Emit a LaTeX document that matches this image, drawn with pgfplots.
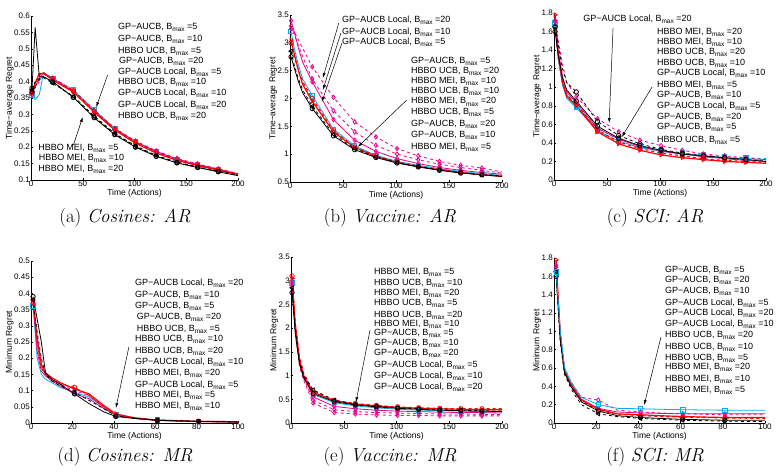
\documentclass[border=0pt]{standalone}
\usepackage{fontspec}
\newfontfamily\arial{Liberation Sans}
\usepackage{pgfplots}
\pgfplotsset{compat=1.18}
\usepackage{pgfplotstable}
\usetikzlibrary{arrows.meta}

% Time-average regret, Cosines
\pgfplotstableread{
x   c1    m1    m2    r1    r2    k1    k2    k3
1   0.360 0.370 0.360 0.370 0.365 0.380 0.375 0.370
4   0.345 0.385 0.380 0.395 0.390 0.565 0.400 0.385
8   0.360 0.410 0.400 0.425 0.420 0.415 0.410 0.405
12  0.425 0.428 0.425 0.425 0.427 0.415 0.412 0.415
21  0.410 0.408 0.410 0.405 0.410 0.400 0.395 0.398
41  0.375 0.370 0.373 0.368 0.372 0.352 0.355 0.352
61  0.315 0.310 0.313 0.307 0.310 0.290 0.295 0.292
81  0.257 0.256 0.258 0.252 0.255 0.238 0.242 0.240
101 0.216 0.217 0.219 0.212 0.215 0.200 0.204 0.202
121 0.186 0.187 0.189 0.182 0.185 0.172 0.175 0.173
141 0.163 0.164 0.166 0.160 0.162 0.152 0.155 0.153
161 0.146 0.147 0.149 0.144 0.146 0.138 0.140 0.139
181 0.132 0.133 0.134 0.130 0.132 0.125 0.127 0.126
200 0.118 0.119 0.120 0.117 0.118 0.113 0.115 0.114
}\tabA

% Time-average regret, Vaccine
\pgfplotstableread{
x   c1   m1   m2   m3   r1   r2   k1   k2
1   3.20 3.40 3.30 3.25 3.05 3.00 2.75 2.85
4   2.90 3.20 3.15 3.20 2.80 2.75 2.55 2.60
8   2.60 2.90 2.95 3.05 2.50 2.50 2.30 2.35
12  2.35 2.65 2.75 2.90 2.25 2.30 2.10 2.15
21  2.05 2.30 2.35 2.57 1.95 2.00 1.82 1.86
41  1.45 1.62 1.78 2.02 1.40 1.42 1.33 1.36
61  1.15 1.25 1.40 1.58 1.12 1.13 1.08 1.10
81  0.98 1.05 1.16 1.31 0.96 0.97 0.94 0.95
101 0.87 0.92 1.00 1.10 0.85 0.86 0.84 0.85
121 0.80 0.83 0.90 0.97 0.78 0.78 0.77 0.78
141 0.74 0.76 0.82 0.87 0.72 0.72 0.71 0.72
161 0.69 0.71 0.76 0.80 0.67 0.67 0.66 0.67
181 0.65 0.67 0.71 0.75 0.63 0.63 0.63 0.63
200 0.62 0.64 0.66 0.68 0.60 0.61 0.60 0.61
}\tabB

% Time-average regret, SCI
\pgfplotstableread{
x   c1   c2   m1   m2   r1   r2   k1   k2
1   1.70 1.68 1.72 1.70 1.78 1.65 1.60 1.65
4   1.30 1.34 1.40 1.50 1.35 1.32 1.35 1.45
8   1.02 1.06 1.12 1.25 1.05 1.06 1.10 1.20
12  0.88 0.92 0.95 1.05 0.90 0.92 0.97 1.05
21  0.78 0.80 0.83 0.90 0.80 0.82 0.85 0.95
41  0.53 0.55 0.56 0.66 0.52 0.54 0.58 0.63
61  0.42 0.44 0.44 0.52 0.39 0.41 0.45 0.48
81  0.35 0.37 0.36 0.43 0.32 0.34 0.37 0.39
101 0.31 0.32 0.31 0.37 0.27 0.29 0.32 0.33
121 0.28 0.29 0.28 0.32 0.24 0.26 0.28 0.29
141 0.26 0.27 0.25 0.28 0.22 0.23 0.26 0.26
161 0.24 0.25 0.23 0.26 0.20 0.21 0.24 0.24
181 0.23 0.24 0.21 0.24 0.19 0.20 0.22 0.22
200 0.22 0.23 0.20 0.22 0.18 0.19 0.20 0.21
}\tabC

% Minimum regret, Cosines
\pgfplotstableread{
x   c1    m1    m2    r1    r2    k1    k2
1   0.360 0.370 0.380 0.380 0.370 0.390 0.380
3   0.200 0.220 0.240 0.260 0.250 0.320 0.280
5   0.150 0.160 0.170 0.180 0.170 0.250 0.200
7   0.135 0.145 0.150 0.155 0.150 0.155 0.150
10  0.125 0.130 0.135 0.140 0.135 0.135 0.130
14  0.110 0.115 0.120 0.125 0.120 0.120 0.115
21  0.095 0.090 0.100 0.105 0.110 0.090 0.095
28  0.080 0.075 0.085 0.090 0.085 0.060 0.070
35  0.050 0.045 0.050 0.055 0.050 0.035 0.045
41  0.025 0.025 0.027 0.028 0.025 0.020 0.022
50  0.015 0.014 0.015 0.016 0.015 0.014 0.015
61  0.009 0.008 0.009 0.009 0.008 0.008 0.009
81  0.005 0.004 0.005 0.005 0.005 0.005 0.005
100 0.003 0.003 0.004 0.004 0.004 0.003 0.003
}\tabD

% Minimum regret, Vaccine
\pgfplotstableread{
x   c1   m1   m2   m3   r1   r2   k1   k2
1   2.95 3.00 2.95 2.90 3.05 3.10 2.75 2.85
4   2.00 2.00 1.95 1.90 2.10 2.10 1.90 2.00
8   1.30 1.30 1.25 1.20 1.35 1.40 1.25 1.30
12  0.98 1.00 0.95 0.90 1.00 1.05 0.95 1.00
21  0.60 0.55 0.48 0.42 0.65 0.68 0.62 0.70
41  0.43 0.35 0.28 0.22 0.47 0.48 0.45 0.48
61  0.36 0.30 0.24 0.19 0.40 0.41 0.38 0.39
81  0.32 0.27 0.22 0.17 0.36 0.37 0.34 0.35
101 0.29 0.25 0.21 0.16 0.33 0.34 0.31 0.32
121 0.27 0.24 0.20 0.16 0.31 0.32 0.29 0.30
141 0.26 0.23 0.19 0.15 0.30 0.31 0.27 0.28
161 0.25 0.22 0.19 0.15 0.29 0.30 0.26 0.27
181 0.24 0.22 0.18 0.15 0.28 0.30 0.25 0.26
200 0.23 0.21 0.18 0.15 0.28 0.30 0.24 0.25
}\tabE

% Minimum regret, SCI
\pgfplotstableread{
x   c1    m1    m2    r1    r2    k1    k2
1   1.65  1.70  1.72  1.78  1.65  1.60  1.65
3   1.00  0.95  1.00  0.95  0.90  0.90  0.88
5   0.60  0.57  0.60  0.57  0.55  0.55  0.53
8   0.45  0.42  0.45  0.43  0.42  0.40  0.38
10  0.38  0.36  0.38  0.35  0.34  0.33  0.30
13  0.28  0.26  0.28  0.25  0.24  0.23  0.20
21  0.20  0.16  0.25  0.15  0.14  0.13  0.10
30  0.16  0.12  0.14  0.10  0.095 0.08  0.07
41  0.155 0.11  0.12  0.09  0.08  0.06  0.05
50  0.15  0.105 0.11  0.08  0.07  0.05  0.04
61  0.145 0.10  0.10  0.07  0.065 0.04  0.03
71  0.142 0.10  0.095 0.065 0.06  0.035 0.025
81  0.14  0.10  0.09  0.06  0.055 0.03  0.02
100 0.14  0.10  0.09  0.06  0.05  0.03  0.015
}\tabF

\pgfplotsset{
  panel/.style={
    scale only axis, anchor=south west, clip=false,
    axis lines*=left, tick align=inside, major tick length=2pt,
    axis line style={line width=0.6pt},
    tick style={black, line width=0.5pt},
    /pgf/number format/assume math mode=true,
    tick label style={font=\arial\fontsize{8}{9}\selectfont, inner sep=1pt},
    yticklabel style={/pgf/number format/fixed, /pgf/number format/precision=2},
    label style={font=\arial\fontsize{8.5}{9}\selectfont},
    xlabel={Time (Actions)},
    xlabel style={yshift=2pt},
    ylabel style={yshift=-4pt},
    every axis plot/.append style={line width=0.8pt, mark size=2.2pt},
  },
  sK/.style={black, solid, mark=o},
  dK/.style={black, dashed, mark=triangle, mark options={solid, rotate=90}},
  sR/.style={red, solid, line width=1.2pt, mark=triangle, mark options={solid, rotate=-90, line width=0.8pt}},
  dR/.style={red, dashed, line width=1.1pt, mark=o, mark options={solid, line width=0.8pt}},
  sM/.style={magenta, solid, mark=diamond},
  dM/.style={magenta, dashed, mark=diamond, mark options={solid}},
  sC/.style={cyan, solid, mark=square},
  dC/.style={cyan, dashed, mark=square, mark options={solid}},
}
\tikzset{
  note/.style={anchor=mid west, inner sep=0pt, font=\arial\fontsize{9}{10}\selectfont},
  pointer/.style={-{Latex[length=5pt,width=3pt]}, line width=0.5pt, black},
}
% budget symbol with a lowered subscript
\newcommand\bmax{B\raisebox{-2.4pt}{\fontsize{6.5}{7}\selectfont max}}
% one annotation line: x, y, method, budget
\newcommand\lab[4]{\node[note] at (axis cs:#1,#2) {#3, \bmax\ =#4};}

\begin{document}
\begin{tikzpicture}
\useasboundingbox (0,0) rectangle (778pt,474pt);

% ---------- (a) Cosines: AR ----------
\begin{axis}[panel, at={(31pt,294pt)}, width=207pt, height=164pt,
  xmin=0, xmax=200, ymin=0.1, ymax=0.6,
  xtick={0,50,100,150,200},
  ytick={0.1,0.15,0.2,0.25,0.3,0.35,0.4,0.45,0.5,0.55,0.6},
  ylabel={Time−average Regret},
  every axis plot/.append style={mark indices={1,5,6,7,8,9,10,11,12,13}}]
\addplot[sC] table[y=c1] {\tabA};
\addplot[sM] table[y=m1] {\tabA};
\addplot[dM] table[y=m2] {\tabA};
\addplot[sR] table[y=r1] {\tabA};
\addplot[dR] table[y=r2] {\tabA};
\addplot[dK] table[y=k2] {\tabA};
\addplot[dK, mark=o] table[y=k3] {\tabA};
\addplot[sK] table[y=k1] {\tabA};
\lab{84}{0.566}{GP−AUCB}{5}
\lab{84}{0.530}{GP−AUCB}{10}
\lab{84}{0.493}{HBBO UCB}{5}
\lab{85}{0.463}{GP−AUCB}{20}
\lab{84}{0.429}{GP−AUCB Local}{5}
\lab{84}{0.399}{HBBO UCB}{10}
\lab{84}{0.365}{GP−AUCB Local}{10}
\lab{84}{0.329}{GP−AUCB Local}{20}
\lab{84}{0.295}{HBBO UCB}{20}
\lab{7}{0.198}{HBBO MEI}{5}
\lab{7.5}{0.167}{HBBO MEI}{10}
\lab{7}{0.133}{HBBO MEI}{20}
\draw[pointer] (axis cs:74,0.42) -- (axis cs:63,0.322);
\draw[pointer] (axis cs:41,0.207) -- (axis cs:50,0.292);
\end{axis}

% ---------- (b) Vaccine: AR ----------
\begin{axis}[panel, at={(290pt,292pt)}, width=212pt, height=167pt,
  xmin=0, xmax=200, ymin=0.5, ymax=3.5,
  xtick={0,50,100,150,200},
  ytick={0.5,1,1.5,2,2.5,3,3.5},
  ylabel={Time−average Regret},
  every axis plot/.append style={mark indices={1,5,6,7,8,9,10,11,12,13}}]
\addplot[sC] table[y=c1] {\tabB};
\addplot[sM] table[y=m1] {\tabB};
\addplot[dM] table[y=m2] {\tabB};
\addplot[dM] table[y=m3] {\tabB};
\addplot[sR] table[y=r1] {\tabB};
\addplot[dR] table[y=r2] {\tabB};
\addplot[dK] table[y=k2] {\tabB};
\addplot[sK] table[y=k1] {\tabB};
\lab{49}{3.41}{GP−AUCB Local}{20}
\lab{49}{3.19}{GP−AUCB Local}{10}
\lab{49}{3.01}{GP−AUCB Local}{5}
\draw[pointer] (axis cs:46,3.356) -- (axis cs:31,2.368);
\draw[pointer] (axis cs:48,3.176) -- (axis cs:31,2.153);
\draw[pointer] (axis cs:49,2.997) -- (axis cs:30,1.937);
\lab{114}{2.67}{GP−AUCB}{5}
\lab{114}{2.49}{HBBO UCB}{20}
\lab{114}{2.31}{HBBO MEI}{10}
\lab{114}{2.13}{HBBO UCB}{10}
\lab{114}{1.94}{HBBO MEI}{20}
\lab{114}{1.76}{HBBO UCB}{5}
\lab{114}{1.54}{GP−AUCB}{20}
\lab{114}{1.34}{GP−AUCB}{10}
\lab{114}{1.13}{HBBO MEI}{5}
\draw[pointer] (axis cs:110,1.97) -- (axis cs:64,1.13);
\end{axis}

% ---------- (c) SCI: AR ----------
\begin{axis}[panel, at={(554pt,294pt)}, width=212pt, height=167pt,
  xmin=0, xmax=200, ymin=0, ymax=1.8,
  xtick={0,50,100,150,200},
  ytick={0,0.2,0.4,0.6,0.8,1,1.2,1.4,1.6,1.8},
  ylabel={Time−average Regret},
  every axis plot/.append style={mark indices={1,5,6,7,8,9,10,11,12,13}}]
\addplot[sC] table[y=c1] {\tabC};
\addplot[dC] table[y=c2] {\tabC};
\addplot[sM] table[y=m1] {\tabC};
\addplot[dM] table[y=m2] {\tabC};
\addplot[sR] table[y=r1] {\tabC};
\addplot[dR] table[y=r2] {\tabC};
\addplot[sK] table[y=k1] {\tabC};
\addplot[dK, mark=o] table[y=k2] {\tabC};
\lab{27.4}{1.735}{GP−AUCB Local}{20}
\draw[pointer] (axis cs:55.7,1.638) -- (axis cs:52,0.614);
\lab{97}{1.595}{HBBO MEI}{20}
\lab{97}{1.487}{HBBO MEI}{10}
\lab{97}{1.379}{HBBO UCB}{20}
\lab{97}{1.261}{HBBO UCB}{10}
\lab{97}{1.153}{GP−AUCB Local}{10}
\lab{97}{1.024}{HBBO MEI}{5}
\lab{97}{0.916}{GP−AUCB}{10}
\lab{97}{0.797}{GP−AUCB Local}{5}
\lab{97}{0.679}{GP−AUCB}{20}
\lab{97}{0.571}{GP−AUCB}{5}
\lab{97}{0.431}{HBBO UCB}{5}
\draw[pointer] (axis cs:92.5,1.002) -- (axis cs:64,0.463);
\end{axis}

% ---------- (d) Cosines: MR ----------
\begin{axis}[panel, at={(31pt,51pt)}, width=207pt, height=162pt,
  xmin=0, xmax=100, ymin=0, ymax=0.5,
  xtick={0,20,40,60,80,100},
  ytick={0,0.05,0.1,0.15,0.2,0.25,0.3,0.35,0.4,0.45,0.5},
  ylabel={Minimum Regret},
  every axis plot/.append style={mark indices={1,7,10,12,13}}]
\addplot[sC] table[y=c1] {\tabD};
\addplot[sM] table[y=m1] {\tabD};
\addplot[dM] table[y=m2] {\tabD};
\addplot[sR] table[y=r1] {\tabD};
\addplot[dR] table[y=r2] {\tabD};
\addplot[dK] table[y=k2] {\tabD};
\addplot[sK] table[y=k1] {\tabD};
\lab{50.2}{0.432}{GP−AUCB Local}{20}
\lab{50.2}{0.395}{GP−AUCB}{10}
\lab{50.2}{0.361}{GP−AUCB}{5}
\lab{51}{0.327}{GP−AUCB}{20}
\lab{51}{0.290}{HBBO UCB}{5}
\lab{50.2}{0.259}{HBBO UCB}{10}
\lab{50.2}{0.222}{HBBO UCB}{20}
\lab{50.2}{0.188}{GP−AUCB Local}{10}
\lab{50.2}{0.154}{HBBO MEI}{20}
\lab{50.2}{0.117}{GP−AUCB Local}{5}
\lab{50.2}{0.086}{HBBO MEI}{5}
\lab{50.2}{0.052}{HBBO MEI}{10}
\draw[pointer] (axis cs:47.3,0.235) -- (axis cs:41,0.046);
\end{axis}

% ---------- (e) Vaccine: MR ----------
\begin{axis}[panel, at={(291pt,51pt)}, width=211pt, height=166pt,
  xmin=0, xmax=200, ymin=0, ymax=3.5,
  xtick={0,50,100,150,200},
  ytick={0,0.5,1,1.5,2,2.5,3,3.5},
  ylabel={Minimum Regret},
  every axis plot/.append style={mark indices={1,5,6,7,8,9,10,11,12,13}}]
\addplot[sC] table[y=c1] {\tabE};
\addplot[sM] table[y=m1] {\tabE};
\addplot[dM] table[y=m2] {\tabE};
\addplot[dM] table[y=m3] {\tabE};
\addplot[sR] table[y=r1] {\tabE};
\addplot[dR] table[y=r2] {\tabE};
\addplot[dK] table[y=k2] {\tabE};
\addplot[sK] table[y=k1] {\tabE};
\lab{78.7}{3.186}{HBBO MEI}{5}
\lab{78.7}{2.954}{HBBO UCB}{10}
\lab{78.7}{2.743}{HBBO MEI}{20}
\lab{78.7}{2.532}{HBBO UCB}{5}
\lab{78.7}{2.278}{HBBO UCB}{20}
\lab{78.7}{2.089}{HBBO MEI}{10}
\lab{78.7}{1.899}{GP−AUCB}{5}
\lab{78.7}{1.688}{GP−AUCB}{10}
\lab{78.7}{1.477}{GP−AUCB}{20}
\lab{78.7}{1.224}{GP−AUCB Local}{5}
\lab{78.7}{0.992}{GP−AUCB Local}{10}
\lab{78.7}{0.759}{GP−AUCB Local}{20}
\draw[pointer] (axis cs:74.9,1.96) -- (axis cs:61.6,0.44);
\end{axis}

% ---------- (f) SCI: MR ----------
\begin{axis}[panel, at={(554pt,51pt)}, width=211pt, height=165pt,
  xmin=0, xmax=100, ymin=0, ymax=1.8,
  xtick={0,20,40,60,80,100},
  ytick={0,0.2,0.4,0.6,0.8,1,1.2,1.4,1.6,1.8},
  ylabel={Minimum Regret},
  every axis plot/.append style={mark indices={1,7,9,11,13}}]
\addplot[sM] table[y=m1] {\tabF};
\addplot[dM] table[y=m2] {\tabF};
\addplot[sR] table[y=r1] {\tabF};
\addplot[dR] table[y=r2] {\tabF};
\addplot[sK] table[y=k1] {\tabF};
\addplot[dK] table[y=k2] {\tabF};
\addplot[sC] table[y=c1] {\tabF};
\lab{52.6}{1.669}{GP−AUCB}{5}
\lab{52.6}{1.559}{GP−AUCB}{20}
\lab{52.6}{1.440}{GP−AUCB}{10}
\lab{52.6}{1.309}{GP−AUCB Local}{5}
\lab{52.6}{1.200}{GP−AUCB Local}{20}
\lab{52.6}{1.080}{GP−AUCB Local}{10}
\lab{52.6}{0.960}{HBBO UCB}{20}
\lab{52.6}{0.829}{HBBO UCB}{10}
\lab{52.6}{0.709}{HBBO UCB}{5}
\lab{52.6}{0.611}{HBBO MEI}{20}
\lab{52.6}{0.480}{HBBO MEI}{10}
\lab{52.6}{0.360}{HBBO MEI}{5}
\draw[pointer] (axis cs:50.7,0.938) -- (axis cs:42.7,0.196);
\end{axis}

% ---------- sub-captions ----------
\begin{scope}[every node/.style={font=\fontsize{18.8}{21}\selectfont, inner sep=0pt}]
\node at (125pt,256pt) {(a)\ \textit{Cosines: AR}};
\node at (390pt,256pt) {(b)\ \textit{Vaccine: AR}};
\node at (655pt,256pt) {(c)\ \textit{SCI: AR}};
\node at (125pt,17pt) {(d)\ \textit{Cosines: MR}};
\node at (390pt,17pt) {(e)\ \textit{Vaccine: MR}};
\node at (655pt,17pt) {(f)\ \textit{SCI: MR}};
\end{scope}
\end{tikzpicture}
\end{document}
